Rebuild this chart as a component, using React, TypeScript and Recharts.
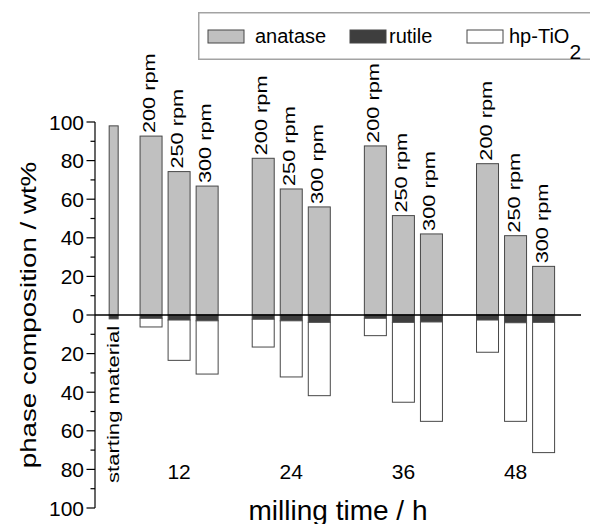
import { BarChart, Bar, XAxis, YAxis, ReferenceLine, Legend, LabelList, Label } from 'recharts';

const FONT = '"Liberation Sans", Arial, Helvetica, sans-serif';

// milling times (h) and milling speeds
const millingTimes = [12, 24, 36, 48];
const speeds = ['200 rpm', '250 rpm', '300 rpm'];
const speedOffsets = [-3, 0, 3]; // offset of each speed bar inside its group (h)
const startPosition = 5;

// starting material composition (wt%)
const startAnatase = 98;
const startRutile = 2;
const startHp = 0;

// rows = milling time, columns = 200 / 250 / 300 rpm
const anatase = [
  [92.7, 74.3, 66.8],
  [81.2, 65.3, 56.0],
  [87.6, 51.5, 42.0],
  [78.4, 41.1, 25.2],
];
const rutile = [
  [1.7, 2.6, 3.0],
  [2.2, 3.0, 3.8],
  [1.7, 3.8, 3.6],
  [2.6, 4.0, 3.8],
];
const hpTiO2 = [
  [4.5, 20.9, 27.6],
  [14.4, 29.1, 38.0],
  [9.0, 41.4, 51.5],
  [16.7, 51.1, 67.5],
];

const yTicks = [-100, -90, -80, -70, -60, -50, -40, -30, -20, -10, 0, 10, 20, 30, 40, 50, 60, 70, 80, 90, 100];
const xTicks = [startPosition, ...millingTimes];

const data = [
  { pos: startPosition, start: true, rpm: '', anatase: startAnatase, rutile: -startRutile, hp: -startHp },
  ...millingTimes.flatMap((t, i) =>
    speeds.map((s, j) => ({
      pos: t + speedOffsets[j],
      start: false,
      rpm: s,
      anatase: anatase[i][j],
      rutile: -rutile[i][j],
      hp: -hpTiO2[i][j],
    }))
  ),
];

const COLORS = { anatase: '#c0c0c0', rutile: '#3e3e3e', hp: '#ffffff', edge: '#474747' };

const BarShape = (props: any) => {
  const { x, y, width, height, fill, payload } = props;
  let top = y;
  let h = height;
  if (h < 0) {
    top = y + h;
    h = -h;
  }
  if (!h) return <g />;
  const w = payload && payload.start ? 9 : width;
  const left = x + (width - w) / 2;
  return <rect x={left} y={top} width={w} height={h} fill={fill} stroke={COLORS.edge} strokeWidth={1} />;
};

const RpmLabel = (props: any) => {
  const { x, y, width, value } = props;
  if (!value) return null;
  const cx = x + width / 2 + 4;
  return (
    <text
      transform={`translate(${cx},${y - 3}) rotate(-90) scale(1.28,1)`}
      textAnchor="start"
      fontSize={17}
      fontFamily={FONT}
      fill="#000"
    >
      {value}
    </text>
  );
};

const XTick = (props: any) => {
  const { x, y, payload } = props;
  if (payload.value === startPosition) {
    return (
      <text
        transform={`translate(${x + 5},${y - 25}) rotate(-90) scale(1.3,1)`}
        textAnchor="start"
        fontSize={17}
        fontFamily={FONT}
        fill="#000"
      >
        starting material
      </text>
    );
  }
  return (
    <text x={x} y={y - 29} textAnchor="middle" fontSize={21} fontFamily={FONT} fill="#000">
      {payload.value}
    </text>
  );
};

const YTick = (props: any) => {
  const { x, y, payload } = props;
  const major = payload.value % 20 === 0;
  return (
    <g>
      <line x1={x - (major ? 8.5 : 4.5)} x2={x} y1={y} y2={y} stroke="#000" strokeWidth={1.2} />
      {major && (
        <text x={x - 11} y={y} textAnchor="end" dominantBaseline="central" fontSize={21} fontFamily={FONT} fill="#000">
          {Math.abs(payload.value)}
        </text>
      )}
    </g>
  );
};

const YTitle = (props: any) => {
  const { x, y, height } = props.viewBox;
  return (
    <text
      transform={`translate(${x + 36},${y + height / 2}) rotate(-90) scale(1.26,1)`}
      textAnchor="middle"
      fontSize={22}
      fontFamily={FONT}
      fill="#000"
    >
      phase composition / wt%
    </text>
  );
};

const XTitle = (props: any) => {
  const { x, y, width } = props.viewBox;
  return (
    <text x={x + width / 2} y={y + 12} textAnchor="middle" fontSize={28} fontFamily={FONT} fill="#000">
      milling time / h
    </text>
  );
};

const legendItems = [
  { name: 'anatase', fill: COLORS.anatase, swatchX: 10, textX: 57 },
  { name: 'rutile', fill: COLORS.rutile, swatchX: 152, textX: 191 },
  { name: 'hp-TiO', fill: COLORS.hp, swatchX: 269, textX: 311, sub: '2' },
];

const LegendBox = () => (
  <svg width={420} height={52} style={{ display: 'block', overflow: 'visible' }}>
    <rect x={0.75} y={0.75} width={418} height={46.5} fill="#fff" stroke="#a3a3a3" strokeWidth={1.5} />
    {legendItems.map((it) => (
      <g key={it.name}>
        <rect x={it.swatchX} y={18} width={36} height={13} fill={it.fill} stroke={COLORS.edge} strokeWidth={1} />
        <text x={it.textX} y={31} fontSize={20} fontFamily={FONT} fill="#000">
          {it.name}
          {it.sub && (
            <tspan dy={16} fontSize={21}>
              {it.sub}
            </tspan>
          )}
        </text>
      </g>
    ))}
  </svg>
);

export default function App() {
  return (
    <div style={{ position: 'absolute', left: 0, top: 0, width: 590, height: 524, overflow: 'hidden', background: '#fff' }}>
      <BarChart
        width={590}
        height={524}
        data={data}
        stackOffset="sign"
        barSize={22}
        margin={{ top: 122, right: 9, bottom: 0, left: 0 }}
      >
        <XAxis
          dataKey="pos"
          type="number"
          domain={[3, 55]}
          ticks={xTicks}
          interval={0}
          allowDataOverflow
          height={16}
          axisLine={false}
          tickLine={false}
          tickSize={0}
          tickMargin={0}
          tick={<XTick />}
        >
          <Label content={<XTitle />} />
        </XAxis>
        <YAxis
          type="number"
          domain={[-100, 100]}
          ticks={yTicks}
          interval={0}
          width={95}
          axisLine={{ stroke: '#000', strokeWidth: 1.2 }}
          tickLine={false}
          tickSize={0}
          tickMargin={0}
          tick={<YTick />}
        >
          <Label content={<YTitle />} />
        </YAxis>
        <Legend
          layout="vertical"
          verticalAlign="middle"
          align="center"
          wrapperStyle={{ left: 198, top: 12, width: 420, height: 52 }}
          content={<LegendBox />}
        />
        <Bar dataKey="anatase" name="anatase" stackId="a" fill={COLORS.anatase} shape={<BarShape />} isAnimationActive={false}>
          <LabelList dataKey="rpm" content={<RpmLabel />} />
        </Bar>
        <Bar dataKey="rutile" name="rutile" stackId="a" fill={COLORS.rutile} shape={<BarShape />} isAnimationActive={false} />
        <Bar dataKey="hp" name="hp-TiO2" stackId="a" fill={COLORS.hp} shape={<BarShape />} isAnimationActive={false} />
        <ReferenceLine y={0} stroke="#000" strokeWidth={1.5} />
      </BarChart>
    </div>
  );
}
